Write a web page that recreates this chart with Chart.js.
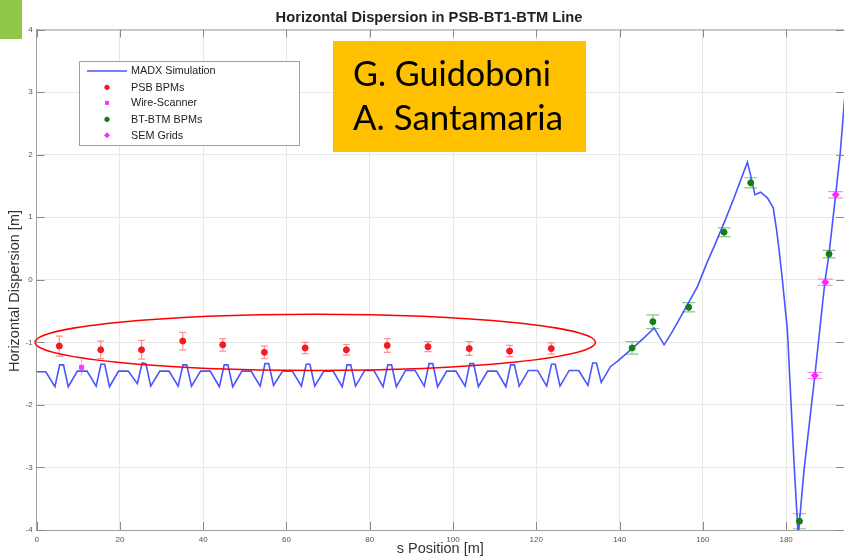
<!DOCTYPE html>
<html>
<head>
<meta charset="utf-8">
<script src="https://cdn.jsdelivr.net/npm/chart.js@4.4.0/dist/chart.umd.min.js"></script>
<style>
  html, body { margin: 0; padding: 0; background: #fff; overflow: hidden; }
  #wrap { width: 844px; height: 558px; }
</style>
</head>
<body>
<div id="wrap"><canvas id="myChart" width="844" height="558"></canvas></div>
<script>
// MADX simulation (s position [m], dispersion [m])
const simS = [0, 2.2, 4.4, 5.55, 6.45, 7.6, 9.8,
  12.1, 14.3, 15.45, 16.35, 17.5, 19.7,
  22.0, 24.2, 25.35, 26.25, 27.4, 29.6,
  31.8, 34.0, 35.15, 36.05, 37.2, 39.4,
  41.7, 43.9, 45.05, 45.95, 47.1, 49.3,
  51.5, 53.7, 54.85, 55.75, 56.9, 59.1,
  61.4, 63.6, 64.75, 65.65, 66.8, 69.0,
  71.2, 73.4, 74.55, 75.45, 76.6, 78.8,
  81.0, 83.2, 84.35, 85.25, 86.4, 88.6,
  90.9, 93.1, 94.25, 95.15, 96.3, 98.5,
  100.7, 102.9, 104.05, 104.95, 106.1, 108.3,
  110.5, 112.7, 113.85, 114.75, 115.9, 118.1,
  120.3, 122.5, 123.65, 124.55, 125.7, 127.9,
  130.2, 132.4, 133.55, 134.45, 135.6,
  137.8, 139.4, 143.0, 146.0, 148.3, 150.7, 152.5, 154.7, 158.7, 161.1,
  162.7, 165.1, 167.5, 170.7, 171.3, 172.5, 173.9, 175.5, 176.9, 177.7,
  178.3, 179.1, 180.3, 181.1, 181.9, 182.9, 184.3, 186.9, 189.3, 190.3,
  191.9, 193.0, 194.2];
const simD = [-1.47, -1.47, -1.71, -1.36, -1.36, -1.71, -1.46,
  -1.46, -1.70, -1.35, -1.35, -1.71, -1.46,
  -1.46, -1.66, -1.33, -1.34, -1.70, -1.46,
  -1.46, -1.70, -1.36, -1.36, -1.70, -1.46,
  -1.46, -1.71, -1.36, -1.36, -1.71, -1.46,
  -1.46, -1.70, -1.34, -1.34, -1.69, -1.46,
  -1.46, -1.70, -1.35, -1.35, -1.70, -1.46,
  -1.46, -1.71, -1.36, -1.36, -1.70, -1.45,
  -1.45, -1.71, -1.36, -1.36, -1.71, -1.45,
  -1.45, -1.70, -1.34, -1.34, -1.71, -1.46,
  -1.46, -1.70, -1.34, -1.34, -1.71, -1.46,
  -1.46, -1.71, -1.36, -1.36, -1.70, -1.45,
  -1.45, -1.70, -1.35, -1.35, -1.70, -1.45,
  -1.45, -1.69, -1.33, -1.33, -1.64,
  -1.39, -1.31, -1.10, -0.92, -0.77, -1.04, -0.85, -0.59, -0.11, 0.29,
  0.53, 0.91, 1.31, 1.88, 1.72, 1.36, 1.40, 1.31, 1.15, 0.80,
  0.48, 0.0, -0.80, -1.87, -2.93, -4.10, -3.04, -1.53, -0.04, 0.41,
  1.36, 2.03, 3.02];

// PSB BPMs
const psbS = [5.45, 15.4, 25.2, 35.1, 44.7, 54.7, 64.5, 74.4, 84.2, 94.0, 103.9, 113.6, 123.6];
const psbD = [-1.06, -1.12, -1.12, -0.98, -1.04, -1.16, -1.09, -1.12, -1.05, -1.07, -1.10, -1.14, -1.10];
const psbErr = [0.16, 0.14, 0.15, 0.14, 0.10, 0.10, 0.09, 0.085, 0.11, 0.08, 0.11, 0.09, 0.09];

// Wire-Scanner
const wsS = [10.8];
const wsD = [-1.40];
const wsErr = [0.12];

// BT-BTM BPMs
const btS = [143.0, 148.0, 156.6, 165.1, 171.5, 183.2, 190.3];
const btD = [-1.09, -0.67, -0.44, 0.76, 1.55, -3.86, 0.41];
const btErr = [0.10, 0.11, 0.075, 0.07, 0.08, 0.12, 0.06];

// SEM Grids
const semS = [186.9, 189.4, 191.9];
const semD = [-1.53, -0.04, 1.36];
const semErr = [0.05, 0.05, 0.05];

// highlighted region (ellipse), in data units
const ellCenter = [66.9, -1.0];
const ellRadius = [67.3, 0.45];

const xTicks = [0, 20, 40, 60, 80, 100, 120, 140, 160, 180];
const yTicks = [-4, -3, -2, -1, 0, 1, 2, 3, 4];

const authors = ['G. Guidoboni', 'A. Santamaria'];

function pts(xs, ys) {
  return xs.map((x, i) => ({ x: x, y: ys[i] }));
}

const AXIS = 'Liberation Sans, Arial, sans-serif';

const extras = {
  id: 'extras',
  beforeDraw(chart) {
    const c = chart.ctx;
    c.save();
    c.fillStyle = '#92c84a';
    c.fillRect(0, 0, 22, 39);
    c.restore();
  },
  beforeDatasetsDraw(chart) {
    const c = chart.ctx;
    const xs = chart.scales.x, ys = chart.scales.y;
    c.save();
    chart.data.datasets.forEach(ds => {
      if (!ds.errors) return;
      c.strokeStyle = ds.barColor;
      c.lineWidth = 1.2;
      ds.data.forEach((p, i) => {
        const px = xs.getPixelForValue(p.x);
        const top = ys.getPixelForValue(p.y + ds.errors[i]);
        const bot = ys.getPixelForValue(p.y - ds.errors[i]);
        const w = ds.capWidth / 2;
        c.beginPath();
        c.moveTo(px, top); c.lineTo(px, bot);
        c.moveTo(px - w, top); c.lineTo(px + w, top);
        c.moveTo(px - w, bot); c.lineTo(px + w, bot);
        c.stroke();
      });
    });
    c.restore();
  },
  afterDraw(chart) {
    const c = chart.ctx;
    const a = chart.chartArea;
    const xs = chart.scales.x, ys = chart.scales.y;
    c.save();

    // box + inward ticks
    c.strokeStyle = '#a0a0a0';
    c.lineWidth = 1;
    c.beginPath();
    c.moveTo(a.left, a.top + 0.5); c.lineTo(a.right, a.top + 0.5);
    c.stroke();
    c.strokeStyle = '#8a8a8a';
    c.beginPath();
    xTicks.forEach(v => {
      const px = Math.round(xs.getPixelForValue(v)) + 0.5;
      c.moveTo(px, a.bottom); c.lineTo(px, a.bottom - 8);
      c.moveTo(px, a.top); c.lineTo(px, a.top + 8);
    });
    yTicks.forEach(v => {
      const py = Math.round(ys.getPixelForValue(v)) + 0.5;
      c.moveTo(a.left, py); c.lineTo(a.left + 8, py);
      c.moveTo(a.right, py); c.lineTo(a.right - 8, py);
    });
    c.stroke();

    // ellipse around PSB BPMs
    c.strokeStyle = '#ff0000';
    c.lineWidth = 1.5;
    const ex = xs.getPixelForValue(ellCenter[0]);
    const ey = ys.getPixelForValue(ellCenter[1]);
    const rx = xs.getPixelForValue(ellCenter[0] + ellRadius[0]) - ex;
    const ry = ey - ys.getPixelForValue(ellCenter[1] + ellRadius[1]);
    c.beginPath();
    c.ellipse(ex, ey, rx, ry, 0, 0, Math.PI * 2);
    c.stroke();

    // legend
    c.fillStyle = '#fff';
    c.fillRect(79.5, 61.5, 220, 84);
    c.strokeStyle = '#a0a0a0';
    c.lineWidth = 1;
    c.strokeRect(79.5, 61.5, 220, 84);
    const rows = [71, 87.3, 102.9, 119.3, 135.3];
    c.font = '10.8px ' + AXIS;
    c.textBaseline = 'middle';
    chart.data.datasets.forEach((ds, i) => {
      const y = rows[i];
      if (ds.showLine) {
        c.strokeStyle = ds.borderColor;
        c.lineWidth = 1.5;
        c.beginPath(); c.moveTo(87, y); c.lineTo(127, y); c.stroke();
      } else {
        c.fillStyle = ds.backgroundColor;
        c.beginPath();
        if (ds.pointStyle === 'rect') {
          c.rect(107 - 2, y - 2, 4, 4);
        } else if (ds.pointStyle === 'rectRot') {
          c.moveTo(107, y - 3); c.lineTo(110, y); c.lineTo(107, y + 3); c.lineTo(104, y);
        } else {
          c.arc(107, y, 2.6, 0, Math.PI * 2);
        }
        c.fill();
      }
      c.fillStyle = '#222';
      c.fillText(ds.label, 131, y + 0.5);
    });

    // title
    c.fillStyle = '#222';
    c.font = 'bold 14.7px ' + AXIS;
    c.textAlign = 'center';
    c.fillText('Horizontal Dispersion in PSB-BT1-BTM Line', 429, 18);

    // y axis title
    c.save();
    c.translate(14.5, 291);
    c.rotate(-Math.PI / 2);
    c.fillStyle = '#333';
    c.font = '14.5px ' + AXIS;
    c.fillText('Horizontal Dispersion [m]', 0, 0);
    c.restore();

    // author box
    c.fillStyle = '#ffc000';
    c.fillRect(333, 41, 253, 111);
    c.fillStyle = '#000';
    c.textAlign = 'left';
    c.textBaseline = 'alphabetic';
    c.font = '35px Lato, Carlito, sans-serif';
    c.fillText(authors[0], 353, 86, 198);
    c.fillText(authors[1], 353, 130, 210);

    c.restore();
  }
};

const data = {
  datasets: [
    {
      label: 'MADX Simulation',
      data: pts(simS, simD),
      showLine: true,
      borderColor: 'rgb(72, 86, 255)',
      borderWidth: 1.6,
      pointRadius: 0,
      tension: 0,
      order: 5
    },
    {
      label: 'PSB BPMs',
      data: pts(psbS, psbD),
      backgroundColor: 'rgb(245, 25, 35)',
      borderColor: 'rgb(245, 25, 35)',
      pointStyle: 'circle',
      pointRadius: 3,
      errors: psbErr,
      capWidth: 7,
      barColor: 'rgba(245, 60, 60, 0.55)'
    },
    {
      label: 'Wire-Scanner',
      data: pts(wsS, wsD),
      backgroundColor: 'rgb(255, 50, 255)',
      borderColor: 'rgb(255, 50, 255)',
      pointStyle: 'rect',
      pointRadius: 2.8,
      errors: wsErr,
      capWidth: 2,
      barColor: 'rgba(255, 80, 255, 0.5)'
    },
    {
      label: 'BT-BTM BPMs',
      data: pts(btS, btD),
      backgroundColor: 'rgb(20, 125, 25)',
      borderColor: 'rgb(20, 125, 25)',
      pointStyle: 'circle',
      pointRadius: 3,
      errors: btErr,
      capWidth: 13,
      barColor: 'rgba(40, 150, 40, 0.55)'
    },
    {
      label: 'SEM Grids',
      data: pts(semS, semD),
      backgroundColor: 'rgb(255, 40, 255)',
      borderColor: 'rgb(255, 40, 255)',
      pointStyle: 'rectRot',
      pointRadius: 3.5,
      errors: semErr,
      capWidth: 15,
      barColor: 'rgba(255, 60, 255, 0.6)'
    }
  ]
};

const config = {
  type: 'scatter',
  data: data,
  options: {
    responsive: false,
    animation: false,
    layout: { autoPadding: false, padding: { top: 29.5, left: 0, right: 0, bottom: 0 } },
    plugins: {
      legend: { display: false },
      title: { display: false },
      tooltip: { enabled: false }
    },
    scales: {
      x: {
        type: 'linear',
        min: 0,
        max: 193.9,
        afterFit: s => { s.height = 28; },
        afterBuildTicks: s => { s.ticks = xTicks.map(v => ({ value: v })); },
        grid: { color: '#e8e8e8', drawTicks: false },
        border: { color: '#a0a0a0' },
        ticks: { color: '#555', font: { size: 8, family: AXIS }, padding: 5, maxRotation: 0 },
        title: { display: true, text: 's Position [m]', color: '#333', font: { size: 14.5, family: AXIS }, padding: { top: 0, bottom: 0 } }
      },
      y: {
        min: -4,
        max: 4,
        afterFit: s => { s.width = 36.6; },
        afterBuildTicks: s => { s.ticks = yTicks.map(v => ({ value: v })); },
        grid: { color: '#e8e8e8', drawTicks: false },
        border: { color: '#a0a0a0' },
        ticks: { color: '#555', font: { size: 8, family: AXIS }, padding: 4 }
      }
    }
  },
  plugins: [extras]
};

let ctx = document.getElementById('myChart').getContext('2d');
let chart = new Chart(ctx, config);
</script>
</body>
</html>
